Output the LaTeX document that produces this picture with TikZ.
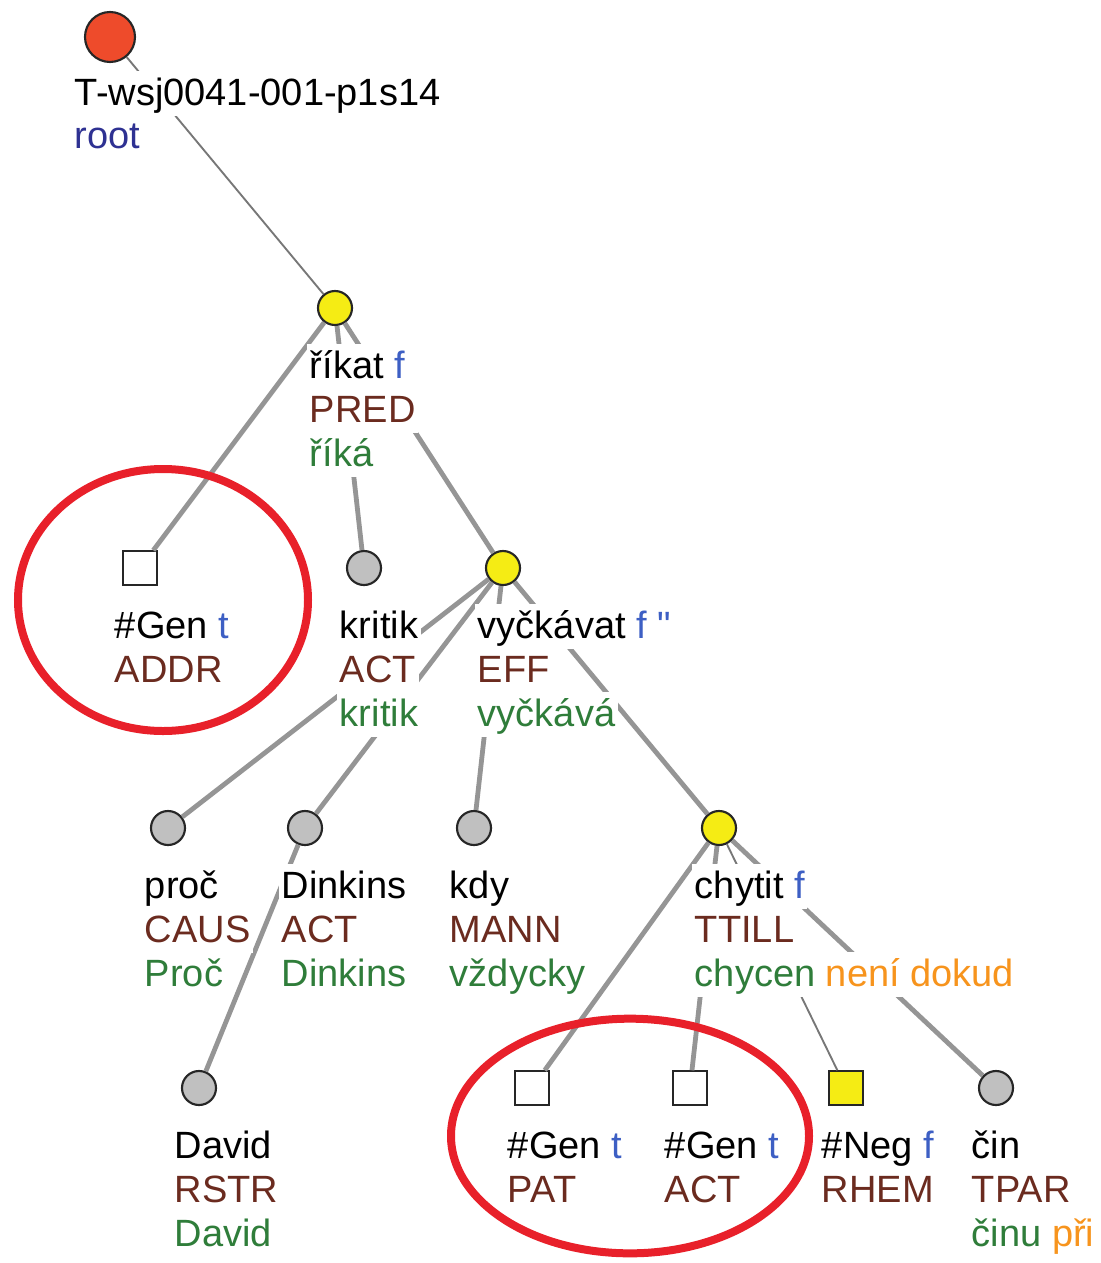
\documentclass[tikz,border=0pt]{standalone}
\usepackage{fontspec}
\setmainfont{Liberation Sans}
\usetikzlibrary{shapes.geometric}
\definecolor{tfa}{HTML}{3D5FC4}
\definecolor{rootc}{HTML}{2E3192}
\definecolor{functor}{HTML}{6B2B1F}
\definecolor{formc}{HTML}{2F7D3A}
\definecolor{auxc}{HTML}{F7941D}
\definecolor{edgec}{HTML}{959595}
\definecolor{redfill}{HTML}{EE4B2B}
\definecolor{yel}{HTML}{F5EC14}
\definecolor{gry}{HTML}{C0C0C0}
\definecolor{markc}{HTML}{E8202A}
\newcommand{\qq}{{\addfontfeature{Ligatures=TeXOff}"}}
\begin{document}
\begin{tikzpicture}[x=0.75pt,y=-0.75pt,
  font=\fontsize{28.5}{33}\selectfont,
  nd/.style={circle,draw=black!85,line width=1.6pt,minimum size=25.5pt,inner sep=0pt},
  sq/.style={rectangle,draw=black!85,line width=1.6pt,minimum size=25pt,inner sep=0pt,fill=white},
  edg/.style={draw=edgec,line width=3.6pt},
  thinedg/.style={draw=edgec!80!black,line width=1.4pt},
  lab/.style={anchor=base west,fill=white,inner xsep=2pt,inner ysep=1.5pt,text height=24pt,text depth=7pt},
  ring/.style={draw=markc,line width=6pt}]
\useasboundingbox[fill=white] (0,0) rectangle (1100,1263);

% tree nodes
\node[nd,fill=redfill,minimum size=37.5pt] (root) at (110,37) {};
\node[nd,fill=yel] (rikat) at (335,308) {};
\node[sq] (addr) at (140,568) {};
\node[nd,fill=gry] (kritik) at (364,568) {};
\node[nd,fill=yel] (vyck) at (503,568) {};
\node[nd,fill=gry] (proc) at (168,828) {};
\node[nd,fill=gry] (dink) at (305,828) {};
\node[nd,fill=gry] (kdy) at (474,828) {};
\node[nd,fill=yel] (chyt) at (719,828) {};
\node[nd,fill=gry] (david) at (199,1088) {};
\node[sq] (pat) at (532,1088) {};
\node[sq] (act) at (690,1088) {};
\node[sq,fill=yel] (neg) at (846,1088) {};
\node[nd,fill=gry] (cin) at (996,1088) {};

% edges
\draw[thinedg] (root) -- (rikat);
\draw[edg] (rikat) -- (addr);
\draw[edg] (rikat) -- (kritik);
\draw[edg] (rikat) -- (vyck);
\draw[edg] (vyck) -- (proc);
\draw[edg] (vyck) -- (dink);
\draw[edg] (vyck) -- (kdy);
\draw[edg] (vyck) -- (chyt);
\draw[edg] (dink) -- (david);
\draw[edg] (chyt) -- (pat);
\draw[edg] (chyt) -- (act);
\draw[thinedg] (chyt) -- (neg);
\draw[edg] (chyt) -- (cin);

% labels
\node[lab] (rootA) at (72,105) {T-wsj0041-001-p1s14};
\node[lab,text=rootc] (rootB) at (72,148) {root};

\node[lab] (rikatA) at (307,378) {říkat \textcolor{tfa}{f}};
\node[lab,text=functor] (rikatB) at (307,422) {PRED};
\node[lab,text=formc] (rikatC) at (307,466) {říká};

\node[lab] (addrA) at (112,638) {\#Gen \textcolor{tfa}{t}};
\node[lab,text=functor] (addrB) at (112,682) {ADDR};

\node[lab] (kritikA) at (337,638) {kritik};
\node[lab,text=functor] (kritikB) at (337,682) {ACT};
\node[lab,text=formc] (kritikC) at (337,726) {kritik};

\node[lab] (vyckA) at (475,638) {vyčkávat \textcolor{tfa}{f \qq}};
\node[lab,text=functor] (vyckB) at (475,682) {EFF};
\node[lab,text=formc] (vyckC) at (475,726) {vyčkává};

\node[lab] (procA) at (142,898) {proč};
\node[lab,text=functor] (procB) at (142,942) {CAUS};
\node[lab,text=formc] (procC) at (142,986) {Proč};

\node[lab] (dinkA) at (279,898) {Dinkins};
\node[lab,text=functor] (dinkB) at (279,942) {ACT};
\node[lab,text=formc] (dinkC) at (279,986) {Dinkins};

\node[lab] (kdyA) at (447,898) {kdy};
\node[lab,text=functor] (kdyB) at (447,942) {MANN};
\node[lab,text=formc] (kdyC) at (447,986) {vždycky};

\node[lab] (chytA) at (692,898) {chytit \textcolor{tfa}{f}};
\node[lab,text=functor] (chytB) at (692,942) {TTILL};
\node[lab,text=formc] (chytC) at (692,986) {chycen \textcolor{auxc}{není dokud}};

\node[lab] (davidA) at (172,1158) {David};
\node[lab,text=functor] (davidB) at (172,1202) {RSTR};
\node[lab,text=formc] (davidC) at (172,1246) {David};

\node[lab] (patA) at (505,1158) {\#Gen \textcolor{tfa}{t}};
\node[lab,text=functor] (patB) at (505,1202) {PAT};

\node[lab] (actA) at (662,1158) {\#Gen \textcolor{tfa}{t}};
\node[lab,text=functor] (actB) at (662,1202) {ACT};

\node[lab] (negA) at (819,1158) {\#Neg \textcolor{tfa}{f}};
\node[lab,text=functor] (negB) at (819,1202) {RHEM};

\node[lab] (cinA) at (969,1158) {čin};
\node[lab,text=functor] (cinB) at (969,1202) {TPAR};
\node[lab,text=formc] (cinC) at (969,1246) {činu \textcolor{auxc}{při}};

% red highlight rings
\draw[ring] (163,600) ellipse [x radius=108.75pt, y radius=98.25pt];
\draw[ring] (630,1136) ellipse [x radius=134.25pt, y radius=88pt];
\end{tikzpicture}
\end{document}
